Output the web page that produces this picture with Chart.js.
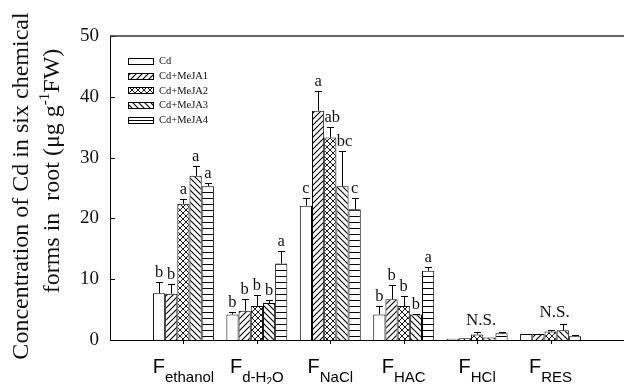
<!DOCTYPE html>
<html><head><meta charset="utf-8">
<script src="https://cdn.jsdelivr.net/npm/chart.js@4.4.1/dist/chart.umd.min.js"></script>
<style>html,body{margin:0;padding:0;background:#fff}#wrap{width:624px;height:384px;position:relative}</style>
</head><body><div id="wrap"><canvas id="c" width="624" height="384"></canvas></div>
<script>
// ---- data ----
const fractionSubs = ['ethanol', 'd-H2O', 'NaCl', 'HAC', 'HCl', 'RES'];
const seriesNames = ['Cd', 'Cd+MeJA1', 'Cd+MeJA2', 'Cd+MeJA3', 'Cd+MeJA4'];
const cdVals    = [7.7, 4.2, 22.1, 4.2, 0.2, 1.0];
const meja1Vals = [7.6, 4.8, 37.7, 6.7, 0.3, 1.0];
const meja2Vals = [22.4, 5.6, 33.3, 5.6, 0.9, 1.4];
const meja3Vals = [27.0, 6.1, 25.3, 4.2, 0.4, 1.6];
const meja4Vals = [25.3, 12.6, 21.5, 11.4, 1.1, 0.6];
const cdErr    = [1.8, 0.4, 1.2, 1.4, 0.0, 0.0];
const meja1Err = [1.6, 1.9, 3.3, 2.4, 0.0, 0.0];
const meja2Err = [0.8, 1.8, 1.7, 1.6, 0.4, 0.2];
const meja3Err = [1.7, 0.5, 5.8, 0.1, 0.0, 1.1];
const meja4Err = [0.5, 2.1, 1.9, 0.6, 0.2, 0.2];
const cdLetters    = ['b', 'b', 'c', 'b', '', ''];
const meja1Letters = ['b', 'b', 'a', 'b', '', ''];
const meja2Letters = ['a', 'b', 'ab', 'b', '', ''];
const meja3Letters = ['a', 'b', 'bc', 'b', '', ''];
const meja4Letters = ['a', 'a', 'c', 'a', '', ''];
const groupNotes = ['', '', '', '', 'N.S.', 'N.S.'];
const yTicks = [0, 10, 20, 30, 40, 50];

// ---- patterns ----
function makePattern(kind) {
  const s = 6;
  const c = document.createElement('canvas');
  c.width = s; c.height = s;
  const g = c.getContext('2d');
  g.fillStyle = '#fff'; g.fillRect(0, 0, s, s);
  g.strokeStyle = '#000'; g.lineWidth = kind === 'cross' ? 0.9 : 1.1;
  function fwd() { g.beginPath(); g.moveTo(-1, s + 1); g.lineTo(s + 1, -1); g.moveTo(-1, 1); g.lineTo(1, -1); g.moveTo(s - 1, s + 1); g.lineTo(s + 1, s - 1); g.stroke(); }
  function back() { g.beginPath(); g.moveTo(-1, -1); g.lineTo(s + 1, s + 1); g.moveTo(s - 1, -1); g.lineTo(s + 1, 1); g.moveTo(-1, s - 1); g.lineTo(1, s + 1); g.stroke(); }
  if (kind === 'fwd') fwd();
  if (kind === 'back') back();
  if (kind === 'cross') { fwd(); back(); }
  if (kind === 'horiz') { g.fillStyle = '#000'; g.fillRect(0, 0, s, 1); }
  if (kind === 'none') return '#fff';
  return document.getElementById('c').getContext('2d').createPattern(c, 'repeat');
}
const patterns = [makePattern('none'), makePattern('fwd'), makePattern('cross'), makePattern('back'), makePattern('horiz')];

const allVals = [cdVals, meja1Vals, meja2Vals, meja3Vals, meja4Vals];
const allErr = [cdErr, meja1Err, meja2Err, meja3Err, meja4Err];
const allLetters = [cdLetters, meja1Letters, meja2Letters, meja3Letters, meja4Letters];

const datasets = allVals.map((vals, k) => ({
  label: seriesNames[k],
  data: vals.map((v, i) => ({ x: i + 1, y: v })),
  backgroundColor: patterns[k],
  borderColor: '#000',
  borderWidth: 1,
  categoryPercentage: 0.83,
  barPercentage: 1.0
}));

const SERIF = '"Liberation Serif", "Times New Roman", serif';
const SANS = '"Liberation Sans", Arial, sans-serif';

const decor = {
  id: 'decor',
  afterDatasetsDraw(chart) {
    const ctx = chart.ctx;
    const ys = chart.scales.y, xs = chart.scales.x;
    const ca = chart.chartArea;
    ctx.save();
    // error bars and letters
    const groupTop = new Array(fractionSubs.length).fill(0);
    chart.data.datasets.forEach((ds, k) => {
      const meta = chart.getDatasetMeta(k);
      meta.data.forEach((el, i) => {
        const v = allVals[k][i], e = allErr[k][i];
        const yv = ys.getPixelForValue(v), ye = ys.getPixelForValue(v + e);
        groupTop[i] = Math.max(groupTop[i], v + e);
        if (e > 0) {
          ctx.strokeStyle = '#000'; ctx.lineWidth = 1;
          ctx.beginPath();
          ctx.moveTo(Math.round(el.x) + 0.5, yv);
          ctx.lineTo(Math.round(el.x) + 0.5, Math.round(ye) + 0.5);
          ctx.moveTo(Math.round(el.x) - 3, Math.round(ye) + 0.5);
          ctx.lineTo(Math.round(el.x) + 4, Math.round(ye) + 0.5);
          ctx.stroke();
        }
        const L = allLetters[k][i];
        if (L) {
          ctx.fillStyle = '#111';
          ctx.font = '16.5px ' + SERIF;
          ctx.textAlign = 'center'; ctx.textBaseline = 'alphabetic';
          ctx.fillText(L, el.x + (L.length > 1 ? 2 : 0), ye - 5);
        }
      });
    });
    groupNotes.forEach((n, i) => {
      if (!n) return;
      ctx.fillStyle = '#111';
      ctx.font = '17px ' + SERIF;
      ctx.textAlign = 'center'; ctx.textBaseline = 'alphabetic';
      ctx.fillText(n, xs.getPixelForValue(i + 1) + 4, ys.getPixelForValue(groupTop[i]) - 7);
    });
    // inward y ticks
    ctx.strokeStyle = '#000'; ctx.lineWidth = 1;
    yTicks.forEach(t => {
      const y = Math.round(ys.getPixelForValue(t)) + 0.5;
      ctx.beginPath(); ctx.moveTo(ca.left, y); ctx.lineTo(ca.left + 5, y); ctx.stroke();
    });
    // x ticks (outward)
    fractionSubs.forEach((s, i) => {
      const x = Math.round(xs.getPixelForValue(i + 1)) + 0.5;
      ctx.beginPath(); ctx.moveTo(x, ca.bottom); ctx.lineTo(x, ca.bottom + 4); ctx.stroke();
    });
    // top frame line
    ctx.strokeStyle = '#333'; ctx.lineWidth = 1.6;
    ctx.beginPath(); ctx.moveTo(ca.left, ca.top); ctx.lineTo(ca.right, ca.top); ctx.stroke();
    // x labels: F + subscript
    fractionSubs.forEach((s, i) => {
      const cx = xs.getPixelForValue(i + 1);
      const parts = [];
      parts.push({ t: 'F', f: '20px ' + SANS, dy: 0 });
      s.split(/(\d)/).forEach(p => {
        if (!p) return;
        if (/^\d$/.test(p)) parts.push({ t: p, f: '10px ' + SANS, dy: 11.7 });
        else parts.push({ t: p, f: '15px ' + SANS, dy: 8.4 });
      });
      let w = 0;
      parts.forEach(p => { ctx.font = p.f; p.w = ctx.measureText(p.t).width; w += p.w; });
      let x = cx - w / 2;
      ctx.fillStyle = '#000'; ctx.textAlign = 'left'; ctx.textBaseline = 'alphabetic';
      parts.forEach(p => { ctx.font = p.f; ctx.fillText(p.t, x, 373.3 + p.dy); x += p.w; });
    });
    // y title (two lines, rotated)
    function rotLine(cx, cy, parts) {
      ctx.save();
      ctx.translate(cx, cy); ctx.rotate(-Math.PI / 2);
      let w = 0;
      parts.forEach(p => { ctx.font = p.f; p.w = ctx.measureText(p.t).width; w += p.w; });
      let x = -w / 2;
      ctx.fillStyle = '#111'; ctx.textAlign = 'left'; ctx.textBaseline = 'middle';
      parts.forEach(p => { ctx.font = p.f; ctx.fillText(p.t, x, p.dy); x += p.w; });
      ctx.restore();
    }
    rotLine(22, 186, [{ t: 'Concentration of Cd in six chemical', f: '24px ' + SERIF, dy: 0 }]);
    rotLine(53, 171, [
      { t: 'forms in  root (\u03bcg g', f: '24px ' + SERIF, dy: 0 },
      { t: '-1', f: '15px ' + SERIF, dy: -8 },
      { t: 'FW)', f: '24px ' + SERIF, dy: 0 }
    ]);
    // legend
    seriesNames.forEach((n, k) => {
      const y = 61 + k * 14.7;
      ctx.fillStyle = patterns[k];
      ctx.fillRect(128, Math.round(y - 3), 25, 6);
      ctx.strokeStyle = '#000'; ctx.lineWidth = 1;
      ctx.strokeRect(128.5, Math.round(y - 3) + 0.5, 25, 6);
      ctx.fillStyle = '#111'; ctx.font = '10.5px ' + SERIF;
      ctx.textAlign = 'left'; ctx.textBaseline = 'middle';
      ctx.fillText(n, 159, y + 0.5);
    });
    ctx.restore();
  }
};

new Chart(document.getElementById('c'), {
  type: 'bar',
  data: { datasets },
  options: {
    responsive: false,
    animation: false,
    devicePixelRatio: 1,
    layout: { padding: { left: 69, top: 36, right: 0, bottom: 44 } },
    plugins: { legend: { display: false }, tooltip: { enabled: false } },
    scales: {
      x: {
        type: 'linear', min: 0, max: 7, offset: false,
        ticks: { display: false, stepSize: 1 },
        grid: { display: false, drawTicks: false },
        border: { display: true, color: '#000', width: 1 }
      },
      y: {
        min: 0, max: 50,
        afterBuildTicks(scale) { scale.ticks = yTicks.map(v => ({ value: v })); },
        ticks: { color: '#111', font: { family: SERIF, size: 19 }, padding: 11 },
        grid: { display: false, drawTicks: false },
        border: { display: true, color: '#000', width: 1 }
      }
    }
  },
  plugins: [decor]
});
</script>
</body></html>
